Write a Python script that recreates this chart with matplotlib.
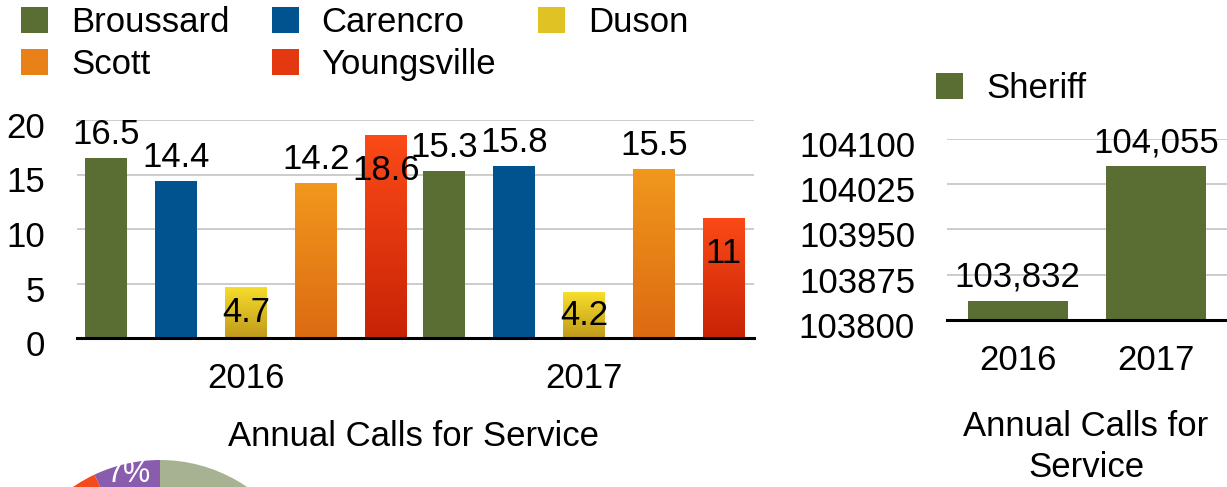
import numpy as np
import matplotlib
matplotlib.use("Agg")
import matplotlib.pyplot as plt
from matplotlib.colors import LinearSegmentedColormap
from matplotlib.patches import Patch
import matplotlib.transforms as mtransforms

plt.rcParams['font.family'] = ['Liberation Sans', 'DejaVu Sans']

# ---- data ----
years = ["2016", "2017"]
cities = ["Broussard", "Carencro", "Duson", "Scott", "Youngsville"]
broussard = [16.5, 15.3]
carencro = [14.4, 15.8]
duson = [4.7, 4.2]
scott = [14.2, 15.5]
youngsville = [18.6, 11]
city_values = [broussard, carencro, duson, scott, youngsville]

sheriff = [103832, 104055]

pie_values = [7, 9, 6, 12, 66]

# ---- styles ----
# (top colour, bottom colour, legend colour)
city_colors = [("#5a6e33", "#5a6e33", "#5a6e33"),
               ("#00538f", "#00538f", "#00538f"),
               ("#f7de2c", "#c0991b", "#e0c224"),
               ("#f1981d", "#dc6a12", "#e88118"),
               ("#fb4a17", "#c82306", "#e43810")]
label_pos = ["above", "above", "center", "above", "inside"]
pie_colors = ["#8a5cad", "#f54a1b", "#f1981d", "#00538f", "#a7b292"]
FS = 25
W, H = 1227, 487

fig = plt.figure(figsize=(W / 100, H / 100), dpi=100)


def px_axes(x0, y0, x1, y1):
    # pixel box (top-left origin) -> figure axes
    return fig.add_axes([x0 / W, (H - y1) / H, (x1 - x0) / W, (y1 - y0) / H])


def gradient_bars(ax, bars, top, bottom):
    if top == bottom:
        return
    cmap = LinearSegmentedColormap.from_list("g", [bottom, top])
    grad = np.linspace(0, 1, 256).reshape(-1, 1)
    for b in bars:
        x0, y0 = b.get_xy()
        im = ax.imshow(grad, extent=[x0, x0 + b.get_width(), y0, y0 + b.get_height()],
                       origin="lower", cmap=cmap, aspect="auto", zorder=b.get_zorder() + 0.1)
        im.set_clip_path(b)


def style_axes(ax, ticks):
    for s in ["left", "right", "top"]:
        ax.spines[s].set_visible(False)
    ax.spines["bottom"].set_linewidth(2.2)
    ax.spines["bottom"].set_zorder(5)
    ax.set_yticks(ticks)
    ax.yaxis.grid(True, color="#cccccc", linewidth=1.4)
    ax.set_axisbelow(True)
    ax.tick_params(axis="both", length=0, labelsize=FS)
    ax.tick_params(axis="y", pad=23)
    ax.tick_params(axis="x", pad=17)
    off = mtransforms.ScaledTranslation(0, -5 / 100, fig.dpi_scale_trans)
    for lab in ax.get_yticklabels():
        lab.set_transform(lab.get_transform() + off)


leg_kw = dict(frameon=False, fontsize=FS, handlelength=0.78, handleheight=0.78,
              handletextpad=0.66, borderpad=0, borderaxespad=0)

# ---- left: city chart ----
ax = px_axes(77, 120, 754, 338)
group_step = 4.83
bar_w = 0.6
handles = []
for i, (name, vals) in enumerate(zip(cities, city_values)):
    xs = [g * group_step + i for g in range(len(years))]
    top, bottom, leg_c = city_colors[i]
    bars = ax.bar(xs, vals, width=bar_w, color=top, zorder=2)
    gradient_bars(ax, bars, top, bottom)
    for x, v in zip(xs, vals):
        txt = f"{v:g}"
        if label_pos[i] == "above":
            ax.annotate(txt, (x, v), xytext=(0, 10), textcoords="offset points",
                        ha="center", va="baseline", fontsize=FS, zorder=6)
        elif label_pos[i] == "center":
            ax.annotate(txt, (x, v / 2), ha="center", va="center", fontsize=FS, zorder=6)
        else:
            ax.annotate(txt, (x, v), xytext=(0, -13.5), textcoords="offset points",
                        ha="center", va="top", fontsize=FS, zorder=6)
    handles.append(Patch(facecolor=leg_c, label=name))

ax.set_xlim(-0.42, group_step + 4 + 0.43)
ax.set_ylim(0, 20)
ax.set_xticks([g * group_step + 2 for g in range(len(years))])
ax.set_xticklabels(years)
style_axes(ax, [0, 5, 10, 15, 20])

# legend row-wise order
order = [0, 3, 1, 4, 2]
fig.legend([handles[k] for k in order], [cities[k] for k in order], ncol=3,
           loc="upper left", bbox_to_anchor=(21 / W, 1 - 6 / H),
           columnspacing=1.21, labelspacing=0.27, **leg_kw)

fig.text(414 / W, 1 - 437 / H, "Annual Calls for Service", ha="center", va="center", fontsize=FS)

# ---- right: sheriff ----
ax2 = px_axes(947, 139, 1227, 320)
bars = ax2.bar(range(len(years)), sheriff, width=0.72, color="#5a6e33", zorder=2)
for x, v in zip(range(len(years)), sheriff):
    ax2.annotate(f"{v:,}", (x, v), xytext=(0, 10), textcoords="offset points",
                 ha="center", va="baseline", fontsize=FS, zorder=6)
ax2.set_xlim(-0.51, 1.51)
ax2.set_ylim(103800, 104100)
ax2.set_xticks(range(len(years)))
ax2.set_xticklabels(years)
style_axes(ax2, [103800, 103875, 103950, 104025, 104100])

fig.legend([Patch(facecolor="#5a6e33")], ["Sheriff"], loc="upper left",
           bbox_to_anchor=(936 / W, 1 - 72 / H), **leg_kw)

fig.text(1086 / W, 1 - 447 / H, "Annual Calls for\nService", ha="center", va="center",
         fontsize=FS, linespacing=1.3)

# ---- bottom-left pie (mostly cut off) ----
pax = px_axes(0, 438, 368, 487)
wedges, texts, autotexts = pax.pie(pie_values, colors=pie_colors, startangle=90,
                                   center=(160, -127), radius=154,
                                   autopct=lambda p: f"{p:.0f}%", pctdistance=0.93,
                                   textprops=dict(color="white", fontsize=22))
# labels that fall below the picture are not shown
for t in texts + autotexts:
    if t.get_position()[1] < 0:
        t.set_visible(False)
pax.set_xlim(0, 368)
pax.set_ylim(0, 49)
pax.set_aspect("auto")
pax.axis("off")

fig.savefig("out.png", dpi=100)
